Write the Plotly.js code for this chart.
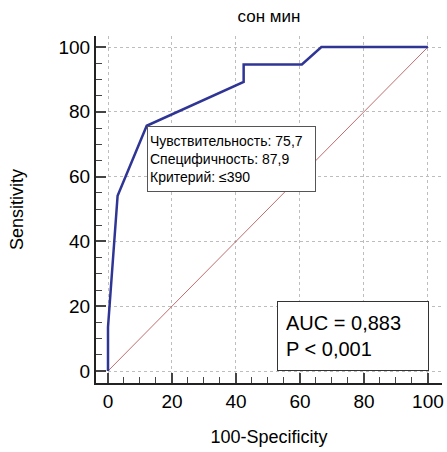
<!DOCTYPE html>
<html>
<head>
<meta charset="utf-8">
<script src="https://cdn.plot.ly/plotly-3.0.1.min.js"></script>
<style>html,body{margin:0;padding:0;background:#fff;}#chart{width:447px;height:452px;}</style>
</head>
<body>
<div id="chart"></div>
<script>
const fpr = [0, 0, 3.0, 12.1, 42.4, 42.4, 60.6, 66.7, 100];
const tpr = [0, 13.5, 54.1, 75.7, 89.2, 94.6, 94.6, 100, 100];
const diagX = [0, 100];
const diagY = [0, 100];
const tickVals = [0, 20, 40, 60, 80, 100];
const titleText = "сон мин";
const xTitle = "100-Specificity";
const yTitle = "Sensitivity";
const critLines = ["Чувствительность: 75,7", "Специфичность: 87,9", "Критерий: ≤390"];
const statLines = ["AUC = 0,883", "P < 0,001"];
const cutX = 12.1, cutY = 75.7;

const font = "Arial, 'Liberation Sans', sans-serif";

const traces = [
  {x: diagX, y: diagY, mode: "lines", line: {color: "#b04848", width: 0.8}, hoverinfo: "skip"},
  {x: fpr, y: tpr, mode: "lines", line: {color: "#2f3595", width: 2.5}}
];

const axisCommon = {
  showline: true, linecolor: "#222", linewidth: 2,
  ticks: "inside", ticklen: 10, tickwidth: 2, tickcolor: "#444",
  tickvals: tickVals,
  showgrid: true, gridcolor: "#bdbdbd", griddash: "dot", gridwidth: 1,
  zeroline: false,
  tickfont: {size: 19, color: "#000", family: font},
  minor: {ticks: "inside", ticklen: 6, tickwidth: 1, tickcolor: "#444", dtick: 5, tick0: 0, showgrid: false},
  fixedrange: true
};

const layout = {
  width: 447, height: 452,
  margin: {l: 96, r: 5, t: 36, b: 69},
  paper_bgcolor: "#fff", plot_bgcolor: "#fff",
  showlegend: false,
  font: {family: font, color: "#000"},
  title: {text: titleText, font: {size: 17, family: font, color: "#000"}, x: 0.5, xref: "paper", y: 1 - 16/452, yref: "container", yanchor: "middle"},
  xaxis: Object.assign({}, axisCommon, {range: [-3.75, 104.4], title: {text: xTitle, font: {size: 18, family: font}, standoff: 20}}),
  yaxis: Object.assign({}, axisCommon, {range: [-3.7, 103.4], title: {text: yTitle, font: {size: 18, family: font}, standoff: 30}}),
  annotations: [
    {x: cutX, y: cutY, xref: "x", yref: "y", xanchor: "left", yanchor: "top", showarrow: false,
     text: critLines.join("<br>"), align: "left", font: {size: 14, family: font, color: "#000"},
     bordercolor: "#555", borderwidth: 1, borderpad: 2, bgcolor: "#fff", width: 163, height: 60, valign: "middle"},
    {x: 100.3, y: 0, xref: "x", yref: "y", xanchor: "right", yanchor: "bottom", showarrow: false,
     text: statLines.join("<br>"), align: "left", font: {size: 20, family: font, color: "#000"},
     bordercolor: "#333", borderwidth: 1, borderpad: 8, bgcolor: "#fff", width: 134, height: 52, valign: "middle"}
  ]
};

Plotly.newPlot("chart", traces, layout, {displayModeBar: false, staticPlot: true});
</script>
</body>
</html>
